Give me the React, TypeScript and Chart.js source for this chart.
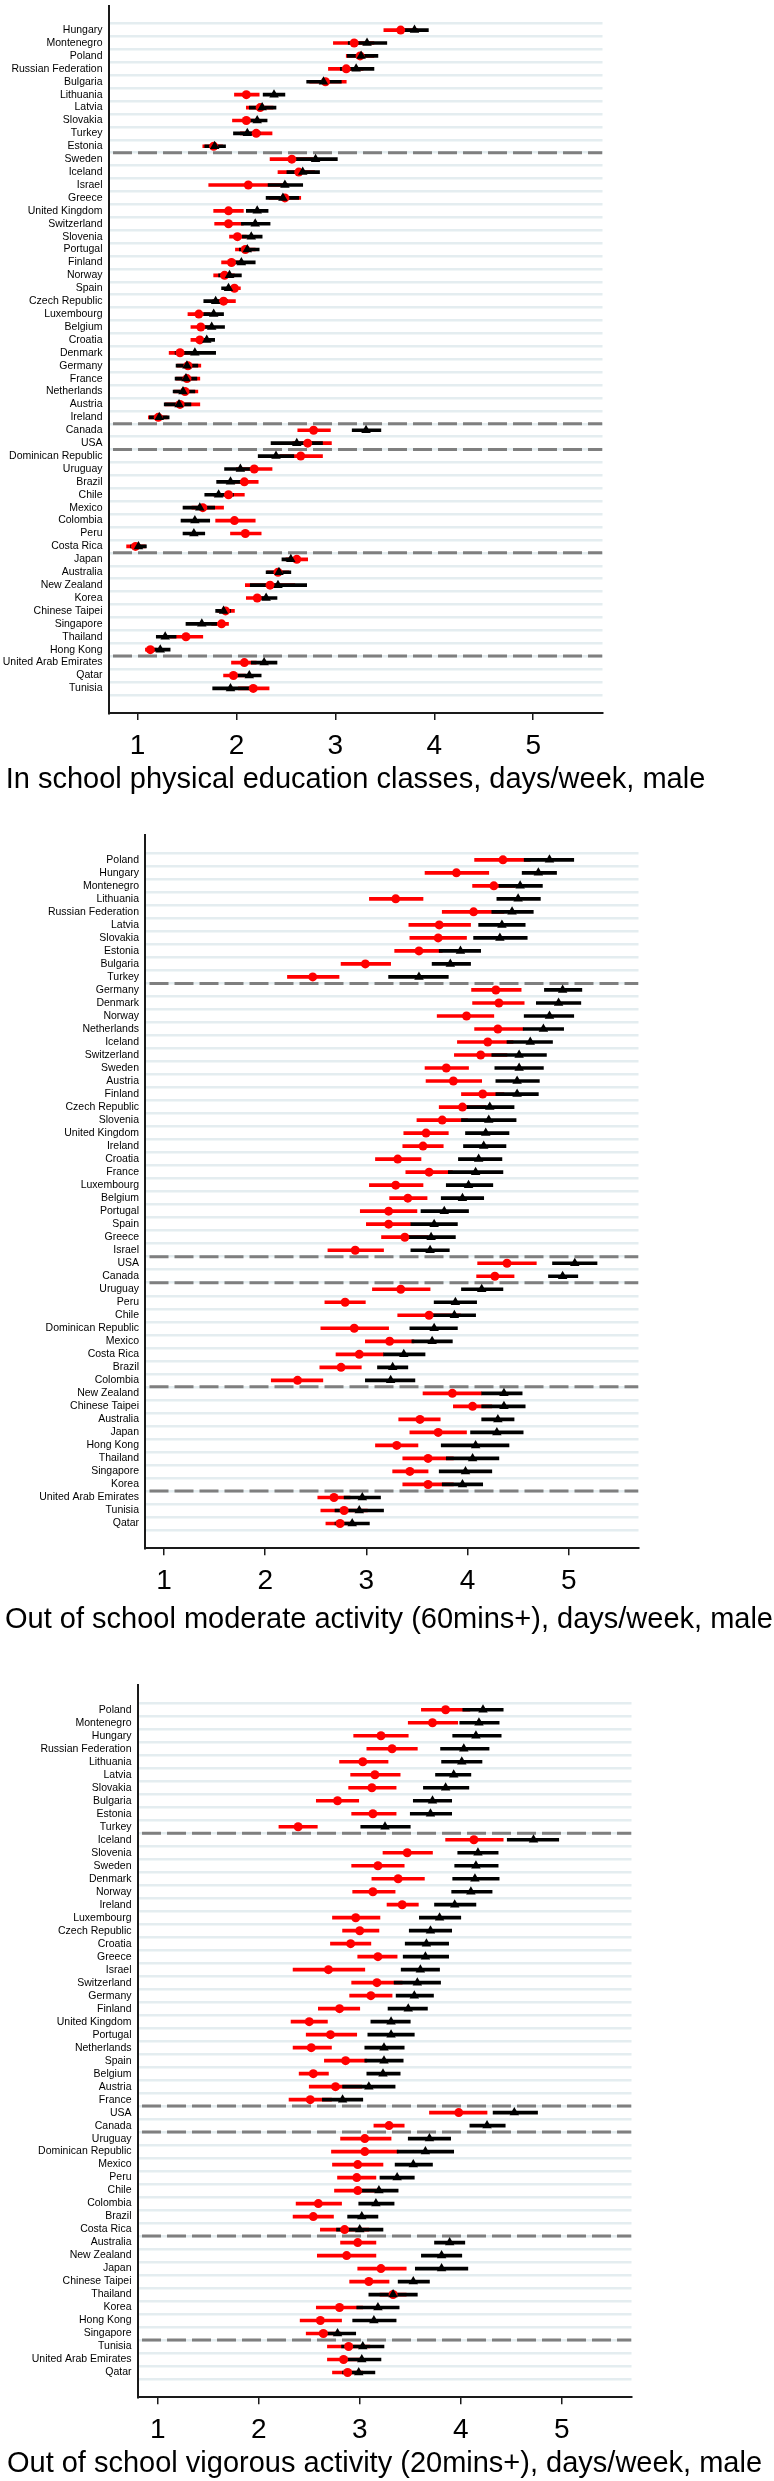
import React, { useEffect, useRef } from 'react';
import { Chart, registerables } from 'chart.js';

Chart.register(...registerables);
Chart.defaults.font.family = '"Liberation Sans", Arial, Helvetica, sans-serif';

// ---------- Panel 1: In school physical education classes ----------
const peCountries = ["Hungary","Montenegro","Poland","Russian Federation","Bulgaria","Lithuania","Latvia","Slovakia","Turkey","Estonia","Sweden","Iceland","Israel","Greece","United Kingdom","Switzerland","Slovenia","Portugal","Finland","Norway","Spain","Czech Republic","Luxembourg","Belgium","Croatia","Denmark","Germany","France","Netherlands","Austria","Ireland","Canada","USA","Dominican Republic","Uruguay","Brazil","Chile","Mexico","Colombia","Peru","Costa Rica","Japan","Australia","New Zealand","Korea","Chinese Taipei","Singapore","Thailand","Hong Kong","United Arab Emirates","Qatar","Tunisia"];
const peGroups = [10, 21, 2, 8, 8, 3];
const peRedMean = [3.66,3.19,3.25,3.11,2.90,2.10,2.24,2.10,2.20,1.77,2.56,2.63,2.12,2.49,1.92,1.92,2.01,2.09,1.95,1.88,1.98,1.87,1.62,1.64,1.63,1.43,1.51,1.50,1.48,1.43,1.21,2.78,2.72,2.65,2.18,2.08,1.92,1.66,1.98,2.09,0.98,2.61,2.42,2.34,2.21,1.89,1.85,1.49,1.13,2.08,1.97,2.17];
const peRedLow = [3.49,2.98,3.11,2.93,2.74,1.98,2.10,1.96,2.04,1.66,2.34,2.42,1.72,2.33,1.77,1.78,1.93,1.99,1.85,1.77,1.91,1.76,1.51,1.54,1.54,1.32,1.40,1.39,1.37,1.28,1.11,2.62,2.57,2.44,2.00,1.94,1.77,1.55,1.79,1.94,0.89,2.50,2.31,2.09,2.10,1.81,1.75,1.33,1.08,1.95,1.87,2.02];
const peRedHigh = [3.83,3.39,3.39,3.28,3.11,2.23,2.37,2.23,2.36,1.86,2.77,2.79,2.52,2.65,2.07,2.07,2.10,2.19,2.06,1.98,2.04,1.99,1.73,1.74,1.72,1.55,1.64,1.63,1.61,1.63,1.30,2.95,2.96,2.87,2.36,2.22,2.08,1.87,2.19,2.25,1.08,2.72,2.53,2.59,2.31,1.98,1.92,1.66,1.19,2.20,2.09,2.33];
const peBlackMean = [3.80,3.32,3.26,3.21,2.88,2.38,2.26,2.21,2.11,1.78,2.80,2.67,2.49,2.47,2.21,2.19,2.15,2.11,2.05,1.93,1.92,1.79,1.77,1.75,1.70,1.58,1.50,1.49,1.46,1.42,1.22,3.31,2.61,2.40,2.04,1.94,1.82,1.63,1.58,1.57,1.01,2.55,2.43,2.42,2.30,1.87,1.65,1.28,1.23,2.28,2.13,1.94];
const peBlackLow = [3.68,3.13,3.12,3.05,2.71,2.27,2.13,2.11,1.97,1.68,2.60,2.51,2.32,2.30,2.10,2.05,2.06,2.03,1.92,1.82,1.85,1.67,1.67,1.63,1.62,1.38,1.39,1.38,1.36,1.27,1.12,3.17,2.35,2.22,1.88,1.80,1.68,1.46,1.44,1.46,0.93,2.46,2.30,2.14,2.19,1.79,1.49,1.19,1.13,2.15,2.01,1.76];
const peBlackHigh = [3.94,3.52,3.43,3.39,3.06,2.49,2.40,2.31,2.24,1.89,3.02,2.84,2.67,2.63,2.32,2.34,2.26,2.23,2.19,2.05,1.99,1.91,1.87,1.88,1.78,1.79,1.61,1.60,1.58,1.54,1.32,3.46,2.87,2.58,2.20,2.09,1.97,1.78,1.73,1.68,1.09,2.64,2.55,2.71,2.41,1.94,1.80,1.39,1.33,2.41,2.25,2.13];

// ---------- Panel 2: Out of school moderate activity ----------
const modCountries = ["Poland","Hungary","Montenegro","Lithuania","Russian Federation","Latvia","Slovakia","Estonia","Bulgaria","Turkey","Germany","Denmark","Norway","Netherlands","Iceland","Switzerland","Sweden","Austria","Finland","Czech Republic","Slovenia","United Kingdom","Ireland","Croatia","France","Luxembourg","Belgium","Portugal","Spain","Greece","Israel","USA","Canada","Uruguay","Peru","Chile","Dominican Republic","Mexico","Costa Rica","Brazil","Colombia","New Zealand","Chinese Taipei","Australia","Japan","Hong Kong","Thailand","Singapore","Korea","United Arab Emirates","Tunisia","Qatar"];
const modGroups = [10, 21, 2, 8, 8, 3];
const modRedMean = [4.35,3.89,4.26,3.29,4.06,3.72,3.71,3.52,2.99,2.47,4.28,4.31,3.99,4.30,4.20,4.13,3.79,3.86,4.15,3.95,3.75,3.59,3.56,3.31,3.62,3.29,3.41,3.22,3.22,3.38,2.89,4.39,4.27,3.34,2.79,3.62,2.88,3.23,2.93,2.75,2.32,3.85,4.05,3.53,3.71,3.30,3.61,3.43,3.61,2.68,2.78,2.74];
const modRedLow = [4.07,3.58,4.05,3.03,3.75,3.42,3.43,3.28,2.75,2.22,4.04,4.05,3.70,4.07,3.90,3.87,3.58,3.59,3.94,3.72,3.50,3.37,3.36,3.09,3.39,3.03,3.23,2.94,3.00,3.15,2.62,4.10,4.09,3.06,2.59,3.31,2.55,2.99,2.70,2.54,2.06,3.56,3.86,3.32,3.43,3.09,3.36,3.26,3.36,2.52,2.55,2.60];
const modRedHigh = [4.62,4.21,4.47,3.56,4.36,4.03,3.99,3.75,3.24,2.73,4.53,4.56,4.26,4.55,4.45,4.39,4.01,4.14,4.36,4.18,4.00,3.81,3.76,3.54,3.85,3.56,3.60,3.50,3.44,3.61,3.17,4.68,4.46,3.63,2.99,3.93,3.22,3.47,3.17,2.95,2.57,4.14,4.24,3.73,3.99,3.51,3.86,3.61,3.86,2.84,3.01,2.88];
const modBlackMean = [4.81,4.70,4.52,4.50,4.44,4.34,4.32,3.93,3.83,3.52,4.94,4.90,4.81,4.75,4.62,4.51,4.51,4.49,4.49,4.22,4.21,4.18,4.16,4.11,4.08,4.01,3.95,3.77,3.67,3.64,3.63,5.06,4.94,4.14,3.88,3.87,3.67,3.65,3.37,3.26,3.24,4.36,4.36,4.30,4.29,4.08,4.05,3.98,3.95,2.96,2.93,2.86];
const modBlackLow = [4.56,4.54,4.31,4.29,4.24,4.11,4.06,3.72,3.65,3.22,4.76,4.68,4.56,4.55,4.39,4.24,4.27,4.28,4.28,3.98,3.94,3.98,3.96,3.91,3.81,3.79,3.74,3.54,3.44,3.40,3.44,4.84,4.80,3.94,3.67,3.66,3.43,3.45,3.17,3.11,2.99,4.14,4.14,4.14,4.03,3.74,3.79,3.72,3.75,2.78,2.69,2.69];
const modBlackHigh = [5.05,4.88,4.74,4.72,4.65,4.57,4.59,4.13,4.03,3.81,5.13,5.12,5.05,4.95,4.84,4.78,4.75,4.71,4.70,4.46,4.48,4.41,4.38,4.34,4.35,4.25,4.16,4.01,3.90,3.88,3.82,5.28,5.09,4.35,4.09,4.08,3.90,3.85,3.58,3.41,3.48,4.54,4.57,4.46,4.55,4.41,4.31,4.24,4.15,3.14,3.17,3.03];

// ---------- Panel 3: Out of school vigorous activity ----------
const vigCountries = ["Poland","Montenegro","Hungary","Russian Federation","Lithuania","Latvia","Slovakia","Bulgaria","Estonia","Turkey","Iceland","Slovenia","Sweden","Denmark","Norway","Ireland","Luxembourg","Czech Republic","Croatia","Greece","Israel","Switzerland","Germany","Finland","United Kingdom","Portugal","Netherlands","Spain","Belgium","Austria","France","USA","Canada","Uruguay","Dominican Republic","Mexico","Peru","Chile","Colombia","Brazil","Costa Rica","Australia","New Zealand","Japan","Chinese Taipei","Thailand","Korea","Hong Kong","Singapore","Tunisia","United Arab Emirates","Qatar"];
const vigGroups = [10, 21, 2, 8, 8, 3];
const vigRedMean = [3.85,3.72,3.21,3.32,3.03,3.15,3.12,2.78,3.13,2.39,4.13,3.47,3.18,3.38,3.13,3.42,2.96,3.00,2.91,3.18,2.69,3.17,3.11,2.80,2.50,2.71,2.52,2.86,2.54,2.76,2.51,3.98,3.29,3.05,3.05,2.98,2.97,2.98,2.59,2.54,2.85,2.98,2.87,3.21,3.09,3.33,2.80,2.61,2.64,2.89,2.84,2.88];
const vigRedLow = [3.61,3.48,2.94,3.07,2.80,2.91,2.89,2.57,2.92,2.20,3.85,3.23,2.92,3.12,2.93,3.27,2.73,2.83,2.71,2.98,2.34,2.92,2.90,2.59,2.32,2.47,2.34,2.65,2.40,2.50,2.30,3.69,3.14,2.81,2.72,2.73,2.78,2.75,2.37,2.34,2.61,2.81,2.58,2.98,2.90,3.20,2.57,2.41,2.47,2.68,2.68,2.73];
const vigRedHigh = [4.09,3.97,3.48,3.57,3.28,3.40,3.36,2.99,3.36,2.58,4.42,3.72,3.44,3.64,3.35,3.58,3.20,3.19,3.11,3.37,3.05,3.42,3.32,3.00,2.68,2.97,2.72,3.07,2.69,3.02,2.72,4.26,3.44,3.31,3.38,3.23,3.16,3.21,2.82,2.74,3.09,3.16,3.16,3.46,3.29,3.46,3.03,2.82,2.81,3.10,3.00,3.03];
const vigBlackMean = [4.22,4.18,4.15,4.03,4.01,3.93,3.85,3.72,3.70,3.25,4.72,4.17,4.15,4.14,4.10,3.94,3.79,3.70,3.66,3.65,3.60,3.57,3.54,3.48,3.31,3.31,3.24,3.24,3.23,3.09,2.83,4.53,4.26,3.69,3.65,3.53,3.37,3.19,3.16,3.02,3.00,3.89,3.81,3.81,3.53,3.33,3.18,3.14,2.78,3.03,3.02,2.99];
const vigBlackLow = [4.02,3.99,3.92,3.80,3.81,3.75,3.63,3.53,3.50,3.01,4.46,3.97,3.94,3.92,3.91,3.74,3.59,3.49,3.45,3.43,3.41,3.34,3.36,3.28,3.11,3.08,3.05,3.05,3.07,2.83,2.63,4.32,4.09,3.48,3.37,3.35,3.20,3.00,2.99,2.88,2.77,3.74,3.61,3.55,3.38,3.09,2.97,2.93,2.60,2.82,2.83,2.83];
const vigBlackHigh = [4.42,4.38,4.40,4.28,4.21,4.10,4.08,3.91,3.91,3.50,4.97,4.37,4.37,4.38,4.31,4.15,4.00,3.91,3.88,3.88,3.79,3.80,3.73,3.67,3.50,3.54,3.44,3.43,3.40,3.35,3.03,4.76,4.44,3.90,3.93,3.72,3.54,3.38,3.34,3.18,3.23,4.04,4.01,4.07,3.69,3.57,3.39,3.36,2.96,3.24,3.21,3.15];

const xTickValues = [1, 2, 3, 4, 5];

const peTitle = 'In school physical education classes, days/week, male';
const modTitle = 'Out of school moderate activity (60mins+), days/week, male';
const vigTitle = 'Out of school vigorous activity (20mins+), days/week, male';

const RED = '#ff0000';
const BLACK = '#000000';
const W = 774;

type Spec = {
  countries: string[]; groups: number[];
  redMean: number[]; redLow: number[]; redHigh: number[];
  blackMean: number[]; blackLow: number[]; blackHigh: number[];
  title: string; height: number; left: number; right: number; top: number; bottom: number;
  xMin: number; xMax: number; titleBaseline: number;
};

const titlePlugin = {
  id: 'panelTitle',
  afterDraw(chart: any, _args: any, opts: any) {
    const ctx = chart.ctx;
    const area = chart.chartArea;
    ctx.save();
    ctx.font = '29px "Liberation Sans", Arial, Helvetica, sans-serif';
    ctx.fillStyle = '#000';
    ctx.textAlign = 'center';
    ctx.textBaseline = 'alphabetic';
    const w = ctx.measureText(opts.text).width;
    let cx = (area.left + area.right) / 2;
    if (cx + w / 2 > chart.width - 1) cx = chart.width - 1 - w / 2;
    if (cx - w / 2 < 1) cx = 1 + w / 2;
    ctx.fillText(opts.text, cx, opts.baseline);
    ctx.restore();
  },
};

function buildConfig(s: Spec): any {
  const n = s.countries.length;
  const idx = s.countries.map((_, i) => i);
  const bounds: number[] = [];
  let acc = 0;
  s.groups.slice(0, -1).forEach((g) => { acc += g; bounds.push(acc - 0.5); });

  const sepSets = bounds.map((b) => ({
    type: 'line',
    data: [{ x: s.xMin, y: b }, { x: s.xMax, y: b }],
    borderColor: '#7f7f7f', borderWidth: 3, borderDash: [19, 6], borderDashOffset: 20.5,
    borderCapStyle: 'butt', pointRadius: 0, order: 6,
  }));

  return {
    type: 'scatter',
    data: {
      datasets: [
        {
          type: 'bar', indexAxis: 'y', grouped: false, barThickness: 3, borderWidth: 0,
          backgroundColor: RED, order: 5,
          data: idx.map((i) => ({ y: i, x: [s.redLow[i], s.redHigh[i]] })),
        },
        {
          type: 'bar', indexAxis: 'y', grouped: false, barThickness: 3, borderWidth: 0,
          backgroundColor: BLACK, order: 4,
          data: idx.map((i) => ({ y: i, x: [s.blackLow[i], s.blackHigh[i]] })),
        },
        {
          type: 'scatter', pointStyle: 'circle', pointRadius: 4.5, borderWidth: 0,
          backgroundColor: RED, borderColor: RED, order: 3,
          data: idx.map((i) => ({ x: s.redMean[i], y: i })),
        },
        {
          type: 'scatter', pointStyle: 'triangle', pointRadius: 5.5, borderWidth: 0,
          backgroundColor: BLACK, borderColor: BLACK, order: 2,
          data: idx.map((i) => ({ x: s.blackMean[i], y: i })),
        },
        ...sepSets,
      ],
    },
    options: {
      responsive: false, animation: false, devicePixelRatio: 1, events: [],
      layout: { padding: { left: 0, top: s.top, right: W - s.right, bottom: 0 } },
      plugins: {
        legend: { display: false },
        tooltip: { enabled: false },
        panelTitle: { text: s.title, baseline: s.titleBaseline },
      },
      scales: {
        x: {
          type: 'linear', position: 'bottom', min: s.xMin, max: s.xMax,
          afterBuildTicks: (sc: any) => { sc.ticks = xTickValues.map((v) => ({ value: v })); },
          grid: { drawOnChartArea: false, drawTicks: true, tickLength: 7, color: '#1a1a1a', lineWidth: 1.5 },
          border: { display: true, color: '#1a1a1a', width: 2 },
          ticks: { autoSkip: false, maxRotation: 0, font: { size: 28 }, color: '#000', padding: 9 },
          afterFit: (sc: any) => { sc.height = s.height - s.bottom; sc.paddingLeft = 0; sc.paddingRight = 0; },
        },
        y: {
          type: 'linear', position: 'left', reverse: true, min: -1.38, max: 52.38,
          grid: { drawTicks: false, color: '#e4edf0', lineWidth: 2.5 },
          border: { display: true, color: '#1a1a1a', width: 2 },
          ticks: {
            stepSize: 1, includeBounds: false, autoSkip: false, padding: 6,
            font: { size: 10.5 }, color: '#000',
            callback: (v: number) => (Number.isInteger(v) && v >= 0 && v < n ? s.countries[v] : null),
          },
          afterFit: (sc: any) => { sc.width = s.left; sc.paddingTop = 0; sc.paddingBottom = 0; },
        },
      },
    },
    plugins: [titlePlugin],
  };
}

function Panel({ spec }: { spec: Spec }) {
  const ref = useRef<HTMLCanvasElement>(null);
  useEffect(() => {
    const chart = new Chart(ref.current as HTMLCanvasElement, buildConfig(spec));
    return () => chart.destroy();
  }, [spec]);
  return (
    <canvas ref={ref} width={W} height={spec.height}
      style={{ display: 'block', width: W, height: spec.height }} />
  );
}

const specs: Spec[] = [
  {
    countries: peCountries, groups: peGroups,
    redMean: peRedMean, redLow: peRedLow, redHigh: peRedHigh,
    blackMean: peBlackMean, blackLow: peBlackLow, blackHigh: peBlackHigh,
    title: peTitle, height: 800, left: 108.5, right: 602.5, top: 2, bottom: 713,
    xMin: 0.707, xMax: 5.70, titleBaseline: 788,
  },
  {
    countries: modCountries, groups: modGroups,
    redMean: modRedMean, redLow: modRedLow, redHigh: modRedHigh,
    blackMean: modBlackMean, blackLow: modBlackLow, blackHigh: modBlackHigh,
    title: modTitle, height: 840, left: 145, right: 638.5, top: 35, bottom: 748.3,
    xMin: 0.812, xMax: 5.69, titleBaseline: 828,
  },
  {
    countries: vigCountries, groups: vigGroups,
    redMean: vigRedMean, redLow: vigRedLow, redHigh: vigRedHigh,
    blackMean: vigBlackMean, blackLow: vigBlackLow, blackHigh: vigBlackHigh,
    title: vigTitle, height: 841, left: 137.5, right: 631.5, top: 45, bottom: 757.3,
    xMin: 0.80, xMax: 5.69, titleBaseline: 831.5,
  },
];

export default function App() {
  return (
    <div style={{ position: 'absolute', left: 0, top: 0, width: W, background: '#fff' }}>
      {specs.map((sp, i) => <Panel key={i} spec={sp} />)}
    </div>
  );
}
